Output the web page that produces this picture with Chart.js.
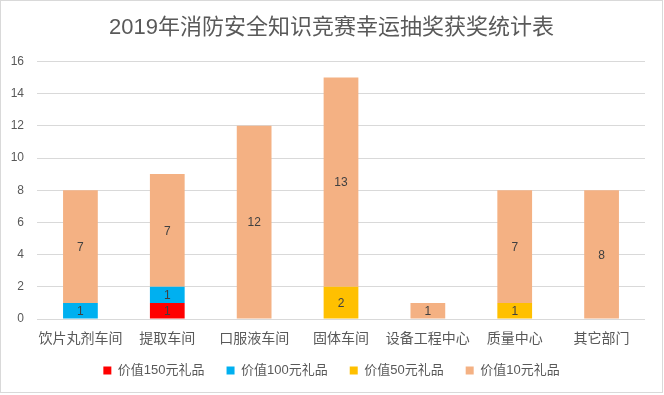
<!DOCTYPE html>
<html>
<head>
<meta charset="utf-8">
<script src="https://cdn.jsdelivr.net/npm/chart.js@4"></script>
<style>
  body { margin: 0; background: #fff; }
  #box { position: absolute; left: 0; top: 0; width: 661px; height: 391px; border: 1px solid #d9d9d9; }
</style>
</head>
<body>
<div id="box"><canvas id="chart" width="661" height="391"></canvas></div>
<script>
// categories and series (counts of winners per workshop)
const departments = ['饮片丸剂车间', '提取车间', '口服液车间', '固体车间', '设备工程中心', '质量中心', '其它部门'];
const prize150 = [0, 1, 0, 0, 0, 0, 0];
const prize100 = [1, 1, 0, 0, 0, 0, 0];
const prize50 = [0, 0, 0, 2, 0, 1, 0];
const prize10 = [7, 7, 12, 13, 1, 7, 8];
const yTicks = [0, 2, 4, 6, 8, 10, 12, 14, 16];

const fontFamily = "'Liberation Sans', 'Noto Sans CJK SC', sans-serif";
const textColor = '#595959';

// draw the value in the middle of every non-empty segment
const segmentLabels = {
    id: 'segmentLabels',
    afterLayout(chart) {
        // x axis is squeezed to sit close to the legend, let its labels spill below
        const x = chart.scales.x;
        x.bottom = x.top + 32;
    },
    afterDatasetsDraw(chart) {
        const ctx = chart.ctx;
        ctx.save();
        ctx.font = '12px ' + fontFamily;
        ctx.fillStyle = '#404040';
        ctx.textAlign = 'center';
        ctx.textBaseline = 'middle';
        chart.data.datasets.forEach((ds, i) => {
            chart.getDatasetMeta(i).data.forEach((bar, j) => {
                const v = ds.data[j];
                if (!v) return;
                ctx.fillText(String(v), bar.x, (bar.y + bar.base) / 2 + 1);
            });
        });
        ctx.restore();
    }
};

function makeSet(label, data, color) {
    return {
        label: label,
        data: data,
        backgroundColor: color,
        borderWidth: 0,
        categoryPercentage: 1,
        barPercentage: 0.4
    };
}

new Chart(document.getElementById('chart').getContext('2d'), {
    type: 'bar',
    data: {
        labels: departments,
        datasets: [
            makeSet('价值150元礼品', prize150, '#FF0000'),
            makeSet('价值100元礼品', prize100, '#00B0F0'),
            makeSet('价值50元礼品', prize50, '#FFC000'),
            makeSet('价值10元礼品', prize10, '#F4B183')
        ]
    },
    options: {
        responsive: false,
        animation: false,
        layout: { padding: { left: 0, right: 0, top: 0, bottom: 5 } },
        plugins: {
            title: {
                display: true,
                text: '2019年消防安全知识竞赛幸运抽奖获奖统计表',
                color: textColor,
                font: { family: fontFamily, size: 22, weight: 'normal' },
                padding: { top: 14, bottom: 20 }
            },
            legend: {
                position: 'bottom',
                labels: {
                    color: textColor,
                    font: { family: fontFamily, size: 13 },
                    boxWidth: 8,
                    boxHeight: 8,
                    padding: 22
                }
            },
            tooltip: { enabled: false }
        },
        scales: {
            x: {
                stacked: true,
                grid: { display: false, drawTicks: false },
                border: { display: false },
                afterFit: (axis) => { axis.height = 23; },
                ticks: { color: textColor, font: { family: fontFamily, size: 14 }, padding: 12, maxRotation: 0, autoSkip: false }
            },
            y: {
                stacked: true,
                min: 0,
                max: 16,
                afterBuildTicks: (axis) => { axis.ticks = yTicks.map(v => ({ value: v })); },
                afterFit: (axis) => { axis.width = 36; },
                grid: { color: '#d9d9d9', drawTicks: false },
                border: { display: false },
                ticks: { color: textColor, font: { family: fontFamily, size: 12 }, padding: 13 }
            },
            // empty right-hand margin, keeps title and legend centred on the page
            yRight: {
                position: 'right',
                grid: { display: false, drawTicks: false },
                border: { display: false },
                ticks: { display: false },
                afterFit: (axis) => { axis.width = 17; }
            }
        }
    },
    plugins: [segmentLabels]
});
</script>
</body>
</html>
